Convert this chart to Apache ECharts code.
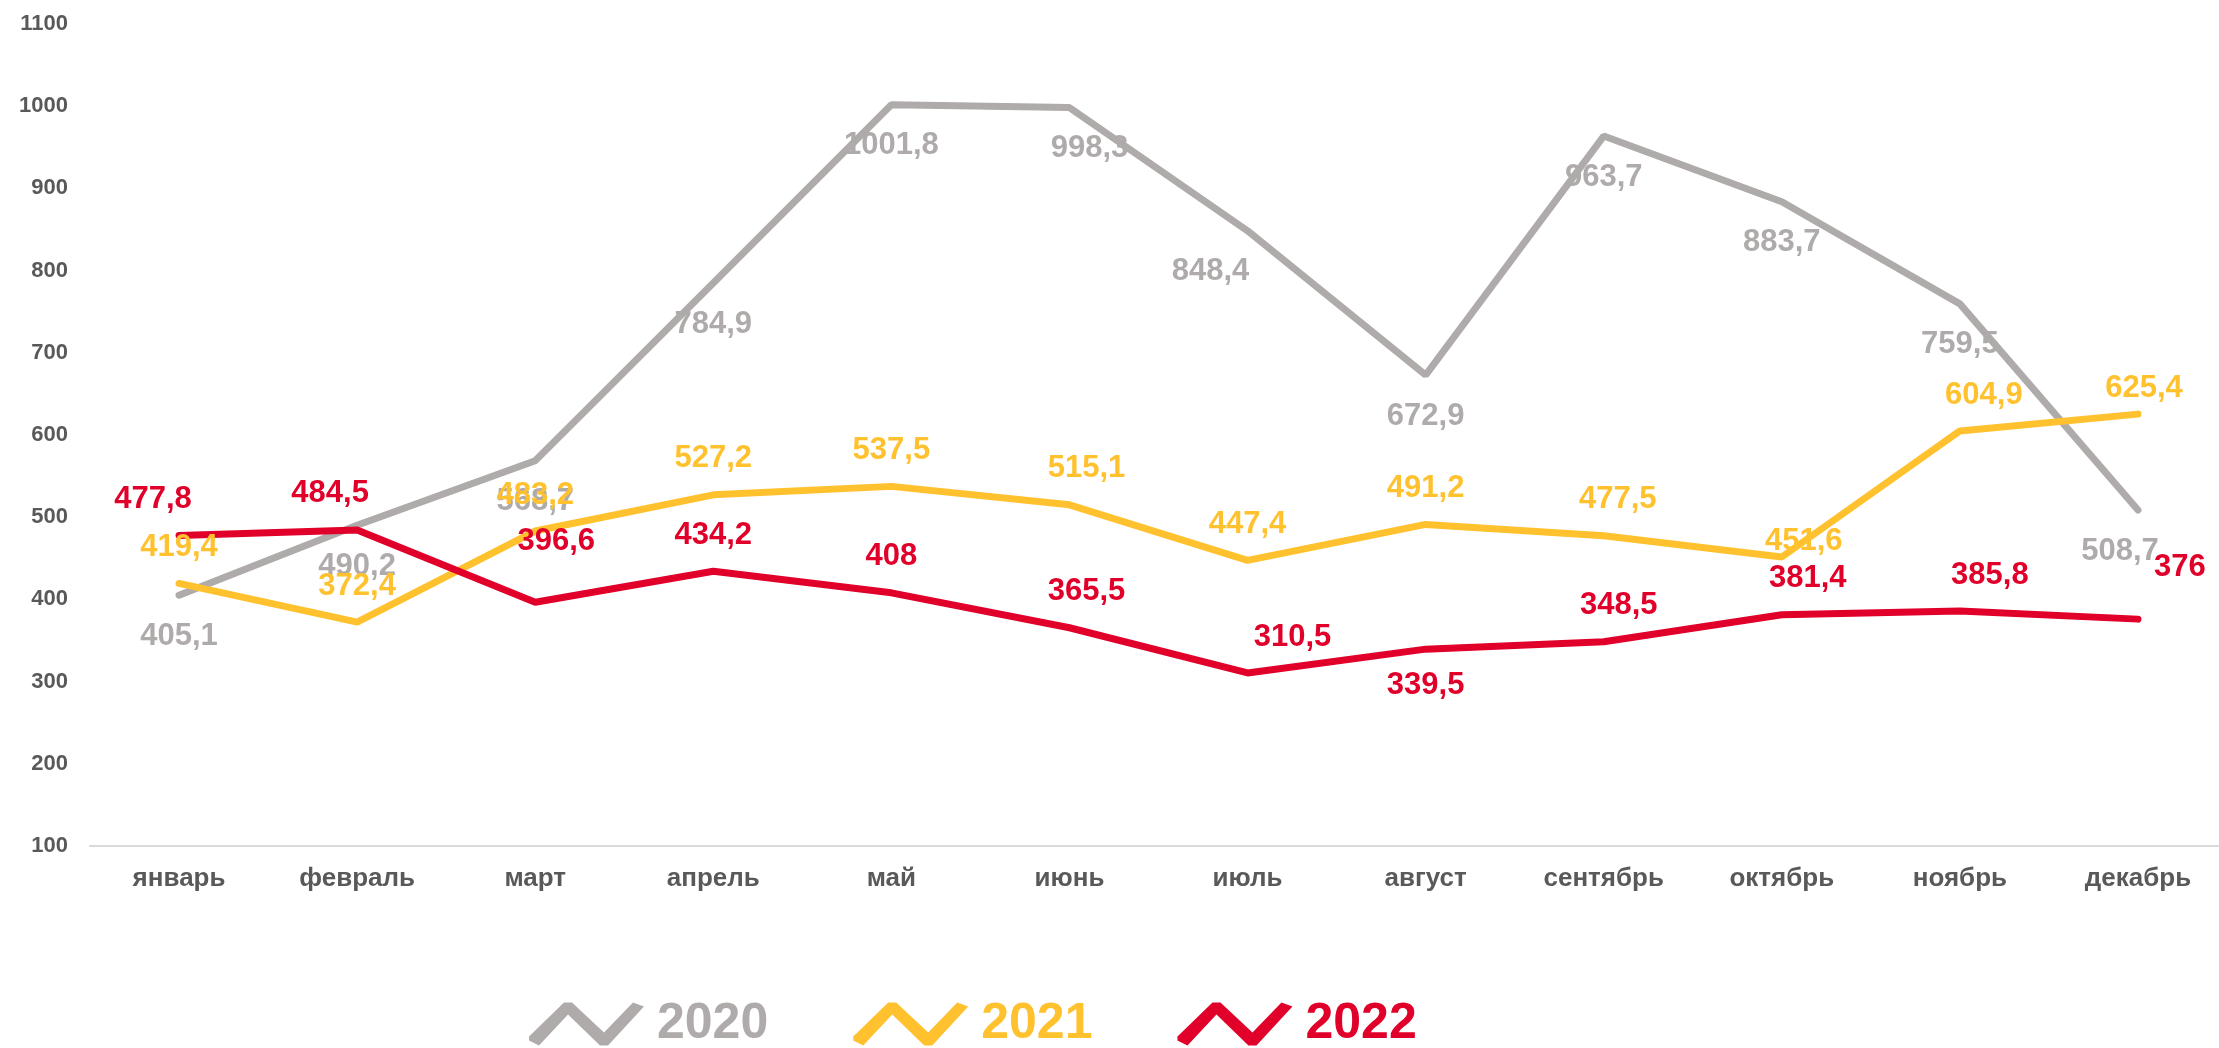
<!DOCTYPE html>
<html>
<head>
<meta charset="utf-8">
<title>2020-2022</title>
<script src="https://cdn.jsdelivr.net/npm/echarts@6/dist/echarts.min.js"></script>
<style>
  html, body { margin: 0; padding: 0; background: #fff; }
  #main { width: 2219px; height: 1048px; }
</style>
</head>
<body>
<div id="main"></div>
<script>
var months = ['январь', 'февраль', 'март', 'апрель', 'май', 'июнь', 'июль', 'август', 'сентябрь', 'октябрь', 'ноябрь', 'декабрь'];
var years = ['2020', '2021', '2022'];
var values2020 = [405.1, 490.2, 568.7, 784.9, 1001.8, 998.3, 848.4, 672.9, 963.7, 883.7, 759.5, 508.7];
var values2021 = [419.4, 372.4, 483.2, 527.2, 537.5, 515.1, 447.4, 491.2, 477.5, 451.6, 604.9, 625.4];
var values2022 = [477.8, 484.5, 396.6, 434.2, 408, 365.5, 310.5, 339.5, 348.5, 381.4, 385.8, 376];
var yTicks = [100, 200, 300, 400, 500, 600, 700, 800, 900, 1000, 1100];

var colors = ['#AFABAB', '#FFC22E', '#E0002A'];
var fontFam = '"Liberation Sans", Arial, sans-serif';

// ручные сдвиги подписей [dx, dy] по индексу месяца
var labelShift = [
    { 5: [20, 0], 6: [-37, 0], 11: [-18, 0] },
    { 5: [17, 0], 8: [14, 0], 9: [22, 20], 10: [24, 0], 11: [6, 10] },
    { 0: [-26, 0], 1: [-27, 0], 2: [21, -25], 5: [17, 0], 6: [45, 0], 8: [15, 0], 9: [26, 0], 10: [30, 0], 11: [42, -16] }
];
var labelBelow = [[], [], [7]];

var zigzag = 'path://M0,36 L35,2 L43,2 L75,32 L104,2 L115,6 L79,45 L71,45 L39,14 L10,45 L0,40 Z';

var myChart = echarts.init(document.getElementById('main'));

function makeSeries(name, vals, idx, pos, dist) {
    return {
        name: name,
        type: 'line',
        data: vals.map(function (v, i) {
            var item = { value: v };
            if (labelBelow[idx].indexOf(i) >= 0) item.label = { position: 'bottom' };
            return item;
        }),
        symbol: 'circle',
        symbolSize: 1,
        showSymbol: true,
        smooth: false,
        lineStyle: { color: colors[idx], width: 7, cap: 'round' },
        itemStyle: { color: colors[idx] },
        label: {
            show: true,
            position: pos,
            distance: dist,
            color: colors[idx],
            fontSize: 31,
            fontWeight: 'bold',
            fontFamily: fontFam,
            formatter: function (p) { return String(p.value).replace('.', ','); }
        },
        labelLayout: function (p) {
            var s = labelShift[idx][p.dataIndex];
            return s ? { dx: s[0], dy: s[1] } : {};
        },
        emphasis: { disabled: true }
    };
}

var option = {
    animation: false,
    backgroundColor: '#fff',
    grid: {
        left: 90,
        top: 24,
        height: 822,
        width: 2137,
        outerBoundsMode: 'none'
    },
    legend: {
        left: 524,
        top: 994,
        itemWidth: 115,
        itemHeight: 45,
        itemGap: 85,
        icon: zigzag,
        data: years.map(function (y, i) {
            return { name: y, textStyle: { color: colors[i] }, itemStyle: { color: colors[i] } };
        }),
        textStyle: {
            fontSize: 50,
            fontWeight: 'bold',
            fontFamily: fontFam,
            padding: [0, 0, 0, 8]
        }
    },
    xAxis: {
        type: 'category',
        data: months,
        boundaryGap: true,
        axisLine: { lineStyle: { color: '#D9D9D9', width: 2 } },
        axisTick: { show: false },
        axisLabel: {
            color: '#595959',
            fontSize: 26,
            fontWeight: 'bold',
            fontFamily: fontFam,
            margin: 20
        }
    },
    yAxis: {
        type: 'value',
        min: yTicks[0],
        max: yTicks[yTicks.length - 1],
        interval: 100,
        axisLine: { show: false },
        axisTick: { show: false },
        splitLine: { show: false },
        axisLabel: {
            color: '#595959',
            fontSize: 22,
            fontWeight: 'bold',
            fontFamily: fontFam,
            margin: 22,
            formatter: function (v) { return String(v); }
        }
    },
    series: [
        makeSeries('2020', values2020, 0, 'bottom', 25),
        makeSeries('2021', values2021, 1, 'top', 20),
        makeSeries('2022', values2022, 2, 'top', 20)
    ]
};

myChart.setOption(option);
</script>
</body>
</html>
